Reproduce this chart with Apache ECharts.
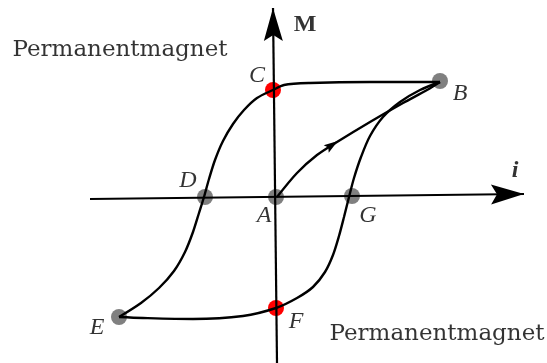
<!DOCTYPE html>
<html>
<head>
<meta charset="utf-8">
<script src="https://cdn.jsdelivr.net/npm/echarts@6/dist/echarts.min.js"></script>
<style>
  html, body { margin: 0; padding: 0; background: #fff; }
  #chart { width: 547px; height: 363px; }
</style>
</head>
<body>
<div id="chart"></div>
<script>
// hysteresis loop, coordinates in picture units (x right, y down)
const upperBranch = [[440, 82], [370, 82], [310, 83], [284, 85], [273, 90], [257, 98], [244, 110], [233, 124], [223, 141], [215, 160], [209, 179], [204, 197], [199, 213], [193, 232], [185, 252], [174, 271], [159, 288], [141, 303], [119, 317]]
const lowerBranch = [[119, 317], [143, 318], [193, 319], [243, 316], [276, 308], [297, 298], [313, 287], [325, 272], [333, 255], [339, 236], [344, 217], [349, 197], [354, 178], [361, 157], [370, 136], [383, 117], [400, 102], [420, 90], [440, 82]]
const initialCurve = [[277, 197], [297, 173], [317, 155], [337, 142], [370, 122], [403, 103], [427, 90], [440, 82]]

const grayPoints = [['A', 276, 197], ['B', 440, 81], ['D', 205, 197], ['E', 119, 317], ['G', 352, 196]]
const redPoints = [['C', 273, 90], ['F', 276, 308]]

const hAxis = [[90, 199], [524, 194]]
const vAxis = [[277, 363], [273, 8]]

const pointLabels = [['A', 264, 216], ['B', 460, 94], ['C', 257, 76], ['D', 188, 181], ['E', 97, 328], ['F', 296, 322], ['G', 368, 216]]
const axisLabels = [['M', 305, 25], ['i', 515, 171]]
const noteLabels = [['Permanentmagnet', 120, 50], ['Permanentmagnet', 437, 334]]

const chart = echarts.init(document.getElementById('chart'))

const serif = 'Liberation Serif'
const arrowPath = 'path://M0,0 L33,10 L0,20 L6,10 Z'
const upArrowPath = 'path://M10,0 L20,33 L10,27 L0,33 Z'

function arrowCenter (line, len) {
  const [a, b] = line
  const dx = b[0] - a[0]
  const dy = b[1] - a[1]
  const d = Math.sqrt(dx * dx + dy * dy)
  return [b[0] - dx / d * len / 2, b[1] - dy / d * len / 2]
}
function tilt (line) {
  const [a, b] = line
  return Math.atan2(-(b[1] - a[1]), b[0] - a[0]) * 180 / Math.PI
}

const curveStyle = { color: '#000', width: 2.4 }

let option = {
  animation: false,
  grid: { left: 0, right: 0, top: 0, bottom: 0 },
  xAxis: { type: 'value', min: 0, max: 547, show: false },
  yAxis: { type: 'value', min: 0, max: 363, inverse: true, show: false },
  series: [
    {
      type: 'line', data: hAxis, symbol: 'none',
      lineStyle: { color: '#000', width: 2.2 }
    },
    {
      type: 'line', data: vAxis, symbol: 'none',
      lineStyle: { color: '#000', width: 2.2 }
    },
    {
      type: 'scatter',
      data: [arrowCenter(hAxis, 33)],
      symbol: arrowPath, symbolSize: [33, 20],
      symbolRotate: tilt(hAxis),
      itemStyle: { color: '#000', opacity: 1 }
    },
    {
      type: 'scatter',
      data: [arrowCenter(vAxis, 33)],
      symbol: upArrowPath, symbolSize: [19, 33],
      symbolRotate: tilt(vAxis) - 90,
      itemStyle: { color: '#000', opacity: 1 }
    },
    { type: 'line', data: upperBranch, symbol: 'none', smooth: 0.3, lineStyle: curveStyle },
    { type: 'line', data: lowerBranch, symbol: 'none', smooth: 0.3, lineStyle: curveStyle },
    { type: 'line', data: initialCurve, symbol: 'none', smooth: 0.3, lineStyle: curveStyle },
    {
      type: 'scatter',
      data: [[332, 145]],
      symbol: arrowPath, symbolSize: [14, 9], symbolRotate: 34,
      itemStyle: { color: '#000', opacity: 1 }
    },
    {
      type: 'scatter',
      data: grayPoints.map(p => ({ name: p[0], value: [p[1], p[2]] })),
      symbolSize: 16,
      itemStyle: { color: '#808080', opacity: 1 }
    },
    {
      type: 'scatter',
      data: redPoints.map(p => ({ name: p[0], value: [p[1], p[2]] })),
      symbolSize: 16,
      itemStyle: { color: '#ff0000', opacity: 1 }
    },
    {
      type: 'scatter',
      data: pointLabels.map(p => ({ name: p[0], value: [p[1], p[2]] })),
      symbolSize: 0,
      label: {
        show: true, position: 'inside', formatter: '{b}',
        color: '#000', fontFamily: serif, fontStyle: 'italic', fontSize: 24
      }
    },
    {
      type: 'scatter',
      data: axisLabels.map(p => ({ name: p[0], value: [p[1], p[2]] })),
      symbolSize: 0,
      label: {
        show: true, position: 'inside', formatter: '{b}',
        color: '#000', fontFamily: serif, fontWeight: 'bold', fontSize: 24
      }
    },
    {
      type: 'scatter',
      data: noteLabels.map(p => ({ name: p[0], value: [p[1], p[2]] })),
      symbolSize: 0,
      label: {
        show: true, position: 'inside', formatter: '{b}',
        color: '#000', fontFamily: 'DejaVu Serif', fontSize: 23
      }
    }
  ]
}

// the "i" label is bold italic
option.series[11].data[1].label = { fontStyle: 'italic' }

chart.setOption(option)
</script>
</body>
</html>
